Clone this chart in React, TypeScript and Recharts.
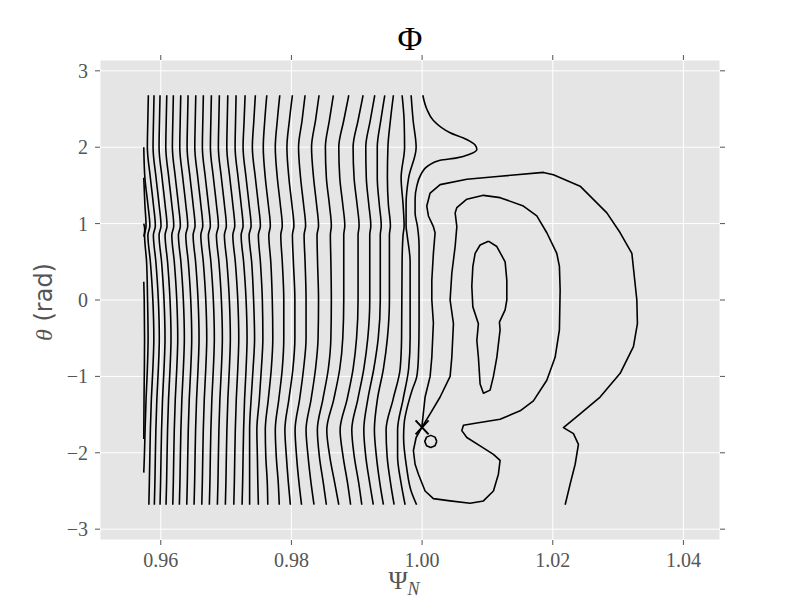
import React from 'react';
import { ComposedChart, Line, Scatter, XAxis, YAxis, CartesianGrid } from 'recharts';

// axis ticks
const psiTicks = [0.96, 0.98, 1.0, 1.02, 1.04];
const thetaTicks = [-3, -2, -1, 0, 1, 2, 3];

// theta samples (rad) shared by the sweep contours
const sweepTheta = [2.68, 2.35, 2.0, 1.6, 1.25, 0.97, 0.85, 0.5, 0.0, -0.5, -0.9, -1.3, -1.7, -2.05, -2.4, -2.68];

// psi_N of each sweep contour at the samples above, left to right
const sweepPsi: number[][] = [
  [0.95810, 0.95802, 0.95795, 0.95841, 0.95887, 0.95917, 0.95887, 0.95925, 0.95963, 0.95978, 0.95963, 0.95940, 0.95925, 0.95917, 0.95910, 0.95902],
  [0.95897, 0.95889, 0.95882, 0.95928, 0.95974, 0.96004, 0.95974, 0.96012, 0.96050, 0.96065, 0.96050, 0.96027, 0.96012, 0.96004, 0.95997, 0.95989],
  [0.95989, 0.95981, 0.95974, 0.96020, 0.96066, 0.96096, 0.96066, 0.96104, 0.96142, 0.96157, 0.96142, 0.96119, 0.96104, 0.96096, 0.96089, 0.96081],
  [0.96092, 0.96084, 0.96077, 0.96123, 0.96169, 0.96199, 0.96169, 0.96207, 0.96245, 0.96260, 0.96245, 0.96222, 0.96207, 0.96199, 0.96192, 0.96184],
  [0.96193, 0.96185, 0.96178, 0.96224, 0.96270, 0.96300, 0.96270, 0.96308, 0.96346, 0.96361, 0.96346, 0.96323, 0.96308, 0.96300, 0.96293, 0.96285],
  [0.96306, 0.96298, 0.96291, 0.96337, 0.96383, 0.96413, 0.96383, 0.96421, 0.96459, 0.96474, 0.96459, 0.96436, 0.96421, 0.96413, 0.96406, 0.96398],
  [0.96418, 0.96410, 0.96403, 0.96449, 0.96495, 0.96525, 0.96495, 0.96533, 0.96571, 0.96586, 0.96571, 0.96548, 0.96533, 0.96525, 0.96518, 0.96510],
  [0.96536, 0.96528, 0.96521, 0.96567, 0.96613, 0.96643, 0.96613, 0.96651, 0.96689, 0.96704, 0.96689, 0.96666, 0.96651, 0.96643, 0.96636, 0.96628],
  [0.96652, 0.96644, 0.96637, 0.96683, 0.96729, 0.96759, 0.96729, 0.96767, 0.96805, 0.96820, 0.96805, 0.96782, 0.96767, 0.96759, 0.96752, 0.96744],
  [0.96775, 0.96767, 0.96760, 0.96806, 0.96852, 0.96882, 0.96852, 0.96890, 0.96928, 0.96943, 0.96928, 0.96905, 0.96890, 0.96882, 0.96875, 0.96867],
  [0.96897, 0.96889, 0.96882, 0.96928, 0.96974, 0.97004, 0.96974, 0.97012, 0.97050, 0.97065, 0.97050, 0.97027, 0.97012, 0.97004, 0.96997, 0.96989],
  [0.97026, 0.97018, 0.97011, 0.97057, 0.97103, 0.97133, 0.97103, 0.97141, 0.97179, 0.97194, 0.97179, 0.97156, 0.97141, 0.97133, 0.97126, 0.97118],
  [0.97153, 0.97145, 0.97138, 0.97184, 0.97230, 0.97260, 0.97230, 0.97268, 0.97306, 0.97321, 0.97306, 0.97283, 0.97268, 0.97260, 0.97253, 0.97245],
  [0.97291, 0.97276, 0.97260, 0.97306, 0.97352, 0.97383, 0.97352, 0.97391, 0.97421, 0.97436, 0.97413, 0.97383, 0.97360, 0.97360, 0.97360, 0.97360],
  [0.97448, 0.97425, 0.97402, 0.97448, 0.97494, 0.97525, 0.97494, 0.97525, 0.97555, 0.97563, 0.97540, 0.97509, 0.97471, 0.97479, 0.97486, 0.97494],
  [0.97623, 0.97592, 0.97569, 0.97600, 0.97646, 0.97677, 0.97654, 0.97684, 0.97707, 0.97715, 0.97692, 0.97646, 0.97600, 0.97608, 0.97631, 0.97638],
  [0.97822, 0.97784, 0.97753, 0.97784, 0.97830, 0.97860, 0.97837, 0.97860, 0.97883, 0.97883, 0.97860, 0.97807, 0.97753, 0.97768, 0.97799, 0.97814],
  [0.98015, 0.97969, 0.97931, 0.97961, 0.98007, 0.98038, 0.98015, 0.98030, 0.98053, 0.98053, 0.98023, 0.97961, 0.97900, 0.97923, 0.97954, 0.97984],
  [0.98209, 0.98163, 0.98109, 0.98140, 0.98186, 0.98217, 0.98194, 0.98209, 0.98224, 0.98224, 0.98186, 0.98125, 0.98056, 0.98079, 0.98117, 0.98155],
  [0.98423, 0.98369, 0.98308, 0.98339, 0.98385, 0.98415, 0.98392, 0.98400, 0.98415, 0.98408, 0.98369, 0.98301, 0.98224, 0.98255, 0.98301, 0.98346],
  [0.98642, 0.98581, 0.98520, 0.98535, 0.98581, 0.98611, 0.98596, 0.98604, 0.98611, 0.98604, 0.98565, 0.98481, 0.98397, 0.98428, 0.98489, 0.98535],
  [0.98878, 0.98801, 0.98725, 0.98740, 0.98786, 0.98817, 0.98801, 0.98801, 0.98801, 0.98786, 0.98740, 0.98648, 0.98541, 0.98587, 0.98664, 0.98725],
  [0.99097, 0.99020, 0.98944, 0.98959, 0.99005, 0.99036, 0.99020, 0.99020, 0.99020, 0.98997, 0.98944, 0.98852, 0.98745, 0.98791, 0.98860, 0.98906],
  [0.99276, 0.99207, 0.99138, 0.99146, 0.99184, 0.99215, 0.99199, 0.99199, 0.99199, 0.99169, 0.99108, 0.99016, 0.98924, 0.98962, 0.99031, 0.99077],
  [0.99429, 0.99368, 0.99314, 0.99314, 0.99345, 0.99375, 0.99360, 0.99360, 0.99360, 0.99329, 0.99261, 0.99169, 0.99108, 0.99138, 0.99199, 0.99253],
  [0.99561, 0.99515, 0.99477, 0.99469, 0.99484, 0.99515, 0.99500, 0.99500, 0.99500, 0.99469, 0.99408, 0.99316, 0.99270, 0.99301, 0.99354, 0.99408],
  [0.99694, 0.99725, 0.99732, 0.99679, 0.99709, 0.99725, 0.99709, 0.99694, 0.99690, 0.99686, 0.99664, 0.99556, 0.99449, 0.99465, 0.99518, 0.99572],
  [0.99832, 0.99863, 0.99909, 0.99794, 0.99755, 0.99755, 0.99771, 0.99817, 0.99817, 0.99817, 0.99794, 0.99709, 0.99625, 0.99625, 0.99679, 0.99740],
];

// contour pieces cut by the left edge of the data
const edgeATheta = [2.0, 1.6, 1.25, 0.97, 0.85, 0.5, 0, -0.5, -0.9, -1.3, -1.7, -2.05, -2.4, -2.68];
const edgeAPsi = [0.95740, 0.95757, 0.95803, 0.95833, 0.95803, 0.95841, 0.95879, 0.95894, 0.95879, 0.95856, 0.95841, 0.95833, 0.95825, 0.95818];
const edgeBTheta = [1.6, 1.25, 0.97, 0.85, 0.5, 0, -0.5, -0.9, -1.3, -1.7, -2.05, -2.26];
const edgeBPsi = [0.95740, 0.95757, 0.95775, 0.95752, 0.95783, 0.95798, 0.95806, 0.95795, 0.95775, 0.95760, 0.95749, 0.95740];
const edgeCTheta = [0.24, 0, -0.5, -0.9, -1.3, -1.82];
const edgeCPsi = [0.95740, 0.95747, 0.95752, 0.95749, 0.95744, 0.95740];
const edgeDashTheta = [1.0, 0.93, 0.87, 0.83];
const edgeDashPsi = [0.95740, 0.95754, 0.95749, 0.95740];

// contour with the spike near theta = 2
const spikeTheta = [2.68, 2.5, 2.35, 2.19, 2.1, 2.03, 1.97, 1.91, 1.86, 1.83, 1.76, 1.64, 1.49, 1.32, 1.14, 0.97, 0.7, 0.44, 0, -0.3, -0.75, -1.0, -1.18, -1.36, -1.62, -1.8, -2.19, -2.5, -2.68];
const spikePsi = [1.00011, 1.00072, 1.00173, 1.00429, 1.00685, 1.00812, 1.00838, 1.00735, 1.00532, 1.00276, 1.00097, 0.9998, 0.99919, 0.99893, 0.99893, 0.99928, 0.99954, 0.99954, 0.99954, 0.99954, 0.99944, 0.99919, 0.99847, 0.99786, 0.99725, 0.99717, 0.99763, 0.99832, 0.99916];

// outer "D" contour, from its bottom end round to the X-point
const outerTheta = [-2.68, -2.41, -2.15, -1.89, -1.75, -1.67, -1.49, -1.27, -0.96, -0.61, -0.31, 0, 0.61, 0.88, 1.14, 1.49, 1.64, 1.67, 1.62, 1.58, 1.51, 1.4, 1.23, 1.1, 0.96, 0.88, 0.61, 0.26, 0, -0.3, -0.75, -1.0, -1.27, -1.667];
const outerPsi = [1.0219, 1.02266, 1.02343, 1.02393, 1.02317, 1.02164, 1.02419, 1.02725, 1.03032, 1.03235, 1.03296, 1.03287, 1.03211, 1.03032, 1.02828, 1.02419, 1.0201, 1.01857, 1.01194, 1.00685, 1.00276, 1.00123, 1.00072, 1.00097, 1.00173, 1.00199, 1.00173, 1.00149, 1.00149, 1.00173, 1.00149, 1.00123, 1.00046, 0.99996];

// separatrix loop through the X-point
const loopTheta = [-1.667, -1.8, -1.97, -2.15, -2.28, -2.5, -2.6, -2.63, -2.66, -2.63, -2.5, -2.28, -2.1, -2.02, -1.91, -1.8, -1.71, -1.64, -1.61, -1.56, -1.45, -1.32, -1.05, -0.75, -0.39, 0.13, 0.44, 0.61, 0.88, 1.1, 1.23, 1.34, 1.37, 1.32, 1.21, 1.14, 0.96, 0.7, 0.35, 0, -0.31, -0.75, -1.0, -1.27, -1.49, -1.667];
const loopPsi = [0.99996, 0.99909, 0.99867, 0.99893, 0.99944, 1.00046, 1.00173, 1.00429, 1.00735, 1.00939, 1.01092, 1.01168, 1.01194, 1.01092, 1.00888, 1.00685, 1.00608, 1.00633, 1.00838, 1.01194, 1.01501, 1.01704, 1.01909, 1.02036, 1.02102, 1.02113, 1.02102, 1.02062, 1.01909, 1.01756, 1.01551, 1.01194, 1.00939, 1.00685, 1.00532, 1.00506, 1.00532, 1.00506, 1.00455, 1.00429, 1.0048, 1.00455, 1.00429, 1.00276, 1.00123, 0.99996];

// inner closed contour
const innerTheta = [0.77, 0.72, 0.61, 0.44, 0.18, -0.09, -0.31, -0.53, -0.75, -1.1, -1.22, -1.18, -1.0, -0.75, -0.39, -0.29, -0.13, 0, 0.26, 0.5, 0.7, 0.77];
const innerPsi = [1.01015, 1.00888, 1.00812, 1.00777, 1.00761, 1.00777, 1.00862, 1.00838, 1.00862, 1.00888, 1.00939, 1.01041, 1.01092, 1.01144, 1.01194, 1.01184, 1.01271, 1.01297, 1.01297, 1.01271, 1.01144, 1.01015];

// small closed contour below the X-point
const ringTheta = [-1.851, -1.795, -1.772, -1.795, -1.851, -1.907, -1.93, -1.907, -1.851];
const ringPsi = [1.00225, 1.00198, 1.00133, 1.00068, 1.00041, 1.00068, 1.00133, 1.00198, 1.00225];

// X-point
const xPointPsi = [1.0];
const xPointTheta = [-1.667];

const toPoints = (psi: number[], theta: number[]) => psi.map((x, i) => ({ x, y: theta[i] }));

// contours that run top to bottom can be smoothed along theta
const openContours = [
  ...sweepPsi.map((p) => toPoints(p, sweepTheta)),
  toPoints(edgeAPsi, edgeATheta),
  toPoints(edgeBPsi, edgeBTheta),
  toPoints(edgeCPsi, edgeCTheta),
  toPoints(edgeDashPsi, edgeDashTheta),
  toPoints(spikePsi, spikeTheta),
];

const loopContours = [
  toPoints(outerPsi, outerTheta),
  toPoints(loopPsi, loopTheta),
  toPoints(innerPsi, innerTheta),
  toPoints(ringPsi, ringTheta),
];

const PSI_DOMAIN: [number, number] = [0.9507, 1.0456];
const THETA_DOMAIN: [number, number] = [-Math.PI, Math.PI];

const tickStyle = { fill: '#555555', fontSize: 20, fontFamily: '"Liberation Serif", serif' };
const tickLineStyle = { stroke: '#555555' };

const formatTheta = (v: number) => (v < 0 ? `\u2212${-v}` : `${v}`);

// ticks without labels for the top and right edges
const NoLabel = () => <g />;

const XMarker = (props: any) => {
  const { cx, cy } = props;
  if (cx == null || cy == null) return <g />;
  return (
    <g>
      <line x1={cx - 6.5} y1={cy - 7} x2={cx + 6.5} y2={cy + 7} stroke="#000" strokeWidth={2} />
      <line x1={cx - 6.5} y1={cy + 7} x2={cx + 6.5} y2={cy - 7} stroke="#000" strokeWidth={2} />
    </g>
  );
};

export default function App() {
  return (
    <div style={{ position: 'absolute', left: 0, top: 0, width: 800, height: 600, background: '#fff' }}>
      <ComposedChart width={800} height={600} margin={{ top: 55, right: 75, bottom: 30, left: 40 }}>
        <CartesianGrid stroke="#ffffff" strokeWidth={1} fill="#e5e5e5" fillOpacity={1} />
        <XAxis
          dataKey="x"
          type="number"
          domain={PSI_DOMAIN}
          allowDataOverflow
          ticks={psiTicks}
          interval={0}
          tickFormatter={(v: number) => v.toFixed(2)}
          height={30}
          tickSize={5}
          tickMargin={8}
          axisLine={false}
          tickLine={tickLineStyle}
          tick={tickStyle}
        />
        <XAxis
          xAxisId="top"
          orientation="top"
          dataKey="x"
          type="number"
          domain={PSI_DOMAIN}
          allowDataOverflow
          ticks={psiTicks}
          interval={0}
          height={5}
          tickSize={5}
          axisLine={false}
          tickLine={tickLineStyle}
          tick={NoLabel}
        />
        <YAxis
          dataKey="y"
          type="number"
          domain={THETA_DOMAIN}
          allowDataOverflow
          ticks={thetaTicks}
          interval={0}
          tickFormatter={formatTheta}
          width={60}
          tickSize={5}
          tickMargin={7}
          axisLine={false}
          tickLine={tickLineStyle}
          tick={tickStyle}
        />
        <YAxis
          yAxisId="right"
          orientation="right"
          dataKey="y"
          type="number"
          domain={THETA_DOMAIN}
          allowDataOverflow
          ticks={thetaTicks}
          interval={0}
          width={5}
          tickSize={5}
          axisLine={false}
          tickLine={tickLineStyle}
          tick={NoLabel}
        />
        {openContours.map((pts, i) => (
          <Line
            key={`open-${i}`}
            data={pts}
            dataKey="y"
            type="monotoneY"
            stroke="#000000"
            strokeWidth={1.6}
            dot={false}
            activeDot={false}
            isAnimationActive={false}
          />
        ))}
        {loopContours.map((pts, i) => (
          <Line
            key={`loop-${i}`}
            data={pts}
            dataKey="y"
            type="linear"
            stroke="#000000"
            strokeWidth={1.6}
            strokeLinejoin="round"
            dot={false}
            activeDot={false}
            isAnimationActive={false}
          />
        ))}
        <Scatter
          data={toPoints(xPointPsi, xPointTheta)}
          dataKey="y"
          shape={XMarker}
          isAnimationActive={false}
        />
      </ComposedChart>
      <svg
        width={800}
        height={600}
        style={{ position: 'absolute', left: 0, top: 0, pointerEvents: 'none' }}
      >
        <text x={410} y={50} textAnchor="middle" fontFamily='"Liberation Serif", serif' fontSize={34} fill="#000">
          Φ
        </text>
        <text x={404} y={589} textAnchor="middle" fontFamily='"Liberation Serif", serif' fontSize={26} fill="#555555">
          Ψ
          <tspan fontStyle="italic" fontSize={18} dy={6}>N</tspan>
        </text>
        <text
          transform="translate(52, 302) rotate(-90)"
          textAnchor="middle"
          fontSize={24}
          fill="#555555"
        >
          <tspan fontFamily='"Liberation Serif", serif' fontStyle="italic">θ</tspan>
          <tspan fontFamily='"DejaVu Sans", sans-serif'> (rad)</tspan>
        </text>
      </svg>
    </div>
  );
}
